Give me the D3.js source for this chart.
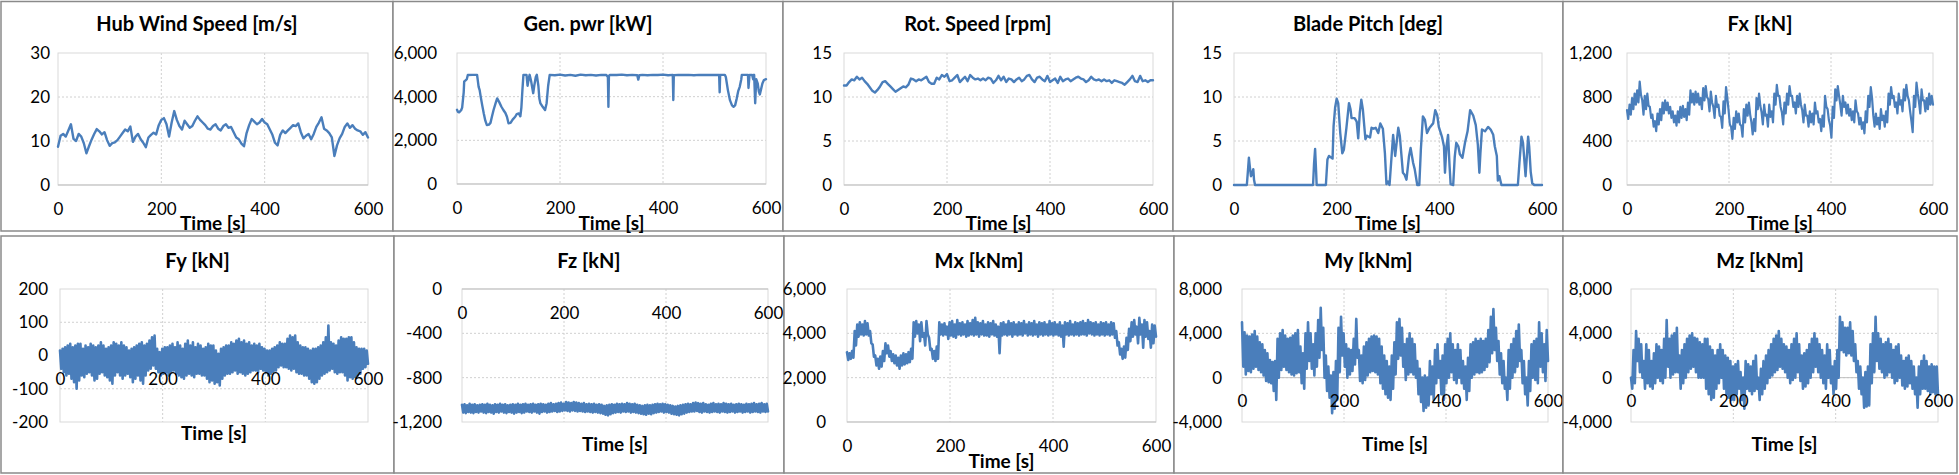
<!DOCTYPE html>
<html><head><meta charset="utf-8">
<script src="https://cdn.jsdelivr.net/npm/d3@7"></script>
<style>html,body{margin:0;padding:0;background:#fff;}svg{display:block;}</style>
</head><body>
<svg id="chart" width="1959" height="475"></svg>
<script>
// ---------------- DATA ----------------
const timeTicks = [0, 200, 400, 600];
const timeSpan = [0, 600];

const titles = ["Hub Wind Speed [m/s]", "Gen. pwr [kW]", "Rot. Speed [rpm]", "Blade Pitch [deg]", "Fx [kN]",
                "Fy [kN]", "Fz [kN]", "Mx [kNm]", "My [kNm]", "Mz [kNm]"];
const xAxisTitle = "Time [s]";

const yDomains = [[0,30],[0,6000],[0,15],[0,15],[0,1200],[-200,200],[-1200,0],[0,6000],[-4000,8000],[-4000,8000]];
const yTickValues = [[0,10,20,30],[0,2000,4000,6000],[0,5,10,15],[0,5,10,15],[0,400,800,1200],
                     [-200,-100,0,100,200],[-1200,-800,-400,0],[0,2000,4000,6000],[-4000,0,4000,8000],[-4000,0,4000,8000]];

// Hub wind speed [m/s], one sample every 5 s
const hubWindSpeed = [
 8.7,11.2,11.6,11.0,12.4,13.8,10.5,10.0,11.6,11.0,
 9.5,7.2,8.8,10.3,11.6,12.7,12.2,11.5,12.0,10.2,
 8.9,9.5,9.7,10.2,11.0,11.8,12.6,12.2,13.3,9.8,
 11.0,11.6,10.4,9.6,8.6,10.8,11.4,11.9,11.5,13.6,
 14.8,15.2,13.8,11.0,14.2,16.8,14.8,13.4,12.6,14.6,
 13.8,13.0,13.4,14.6,15.6,14.8,14.2,13.6,12.8,12.6,
 13.4,13.8,12.8,12.4,13.4,13.8,13.0,13.2,12.0,10.8,
 10.4,9.4,8.8,11.8,13.6,15.0,14.4,13.8,14.2,15.0,
 14.2,13.8,12.6,11.4,9.6,9.0,11.4,12.4,11.8,12.4,
 13.0,13.6,13.4,14.0,12.0,10.6,11.2,11.6,10.4,11.6,
 13.2,14.2,15.4,12.8,12.4,11.8,10.8,6.6,9.0,10.6,
 11.6,13.2,14.0,13.0,13.6,12.8,12.4,12.2,11.4,12.0,
 10.8];

// Generator power [kW], [time, value] breakpoints
const genPower = [
 [0,3400],[2,3300],[4,3280],[8,3380],[10,3500],[13,4200],[14,4700],[17,4750],[19,4800],[21,4990],[30,5000],[39,5000],
 [42,4450],[44,4300],[46,4000],[49,3600],[52,3230],[55,2900],[58,2700],[62,2720],[65,2800],[68,3100],[71,3390],[75,3700],
 [78,3920],[82,3750],[86,3550],[90,3390],[94,3250],[97,3080],[100,2780],[104,2800],[108,2950],[113,3080],[116,3200],[120,3230],
 [123,3100],[125,3500],[127,4300],[129,5000],[135,5000],[137,4500],[139,4800],[141,5000],[144,4700],[148,4160],[150,4500],
 [153,4900],[155,5000],[158,4500],[160,3900],[162,3690],[166,3550],[171,3390],[174,3700],[177,4500],[180,5000],
 [190,4980],[200,5010],[210,4970],[220,5000],[230,4960],[240,5010],[250,4980],[260,5000],[270,4970],[280,5000],[290,4990],
 [293,4900],[294,3540],[295,4950],[297,5000],[310,4990],[320,5010],[330,4980],[340,5000],[350,4980],[352,4780],[354,4980],
 [360,5000],[370,4980],[380,5000],[390,4990],[400,5010],[410,4980],[419,5000],[420,3850],[421,4980],[430,5000],[440,4990],
 [450,5000],[460,4980],[470,5000],[480,4990],[490,5000],[500,4990],[509,5000],[510,4200],[511,5000],[520,5000],[522,4900],
 [526,4300],[530,3840],[534,3600],[537,3540],[540,3600],[543,3900],[546,4250],[549,4450],[552,4800],[553,5000],[565,5000],
 [566,4400],[568,5000],[573,5000],[575,4800],[577,5000],[579,3700],[581,4800],[584,4600],[586,4240],[588,4100],[590,4300],
 [593,4600],[596,4760],[600,4800]];

// Rotor speed [rpm], one sample every 5 s
const rotSpeed = [
 11.3,11.3,11.7,12.0,11.9,12.3,12.0,12.2,11.8,11.5,
 11.1,10.7,10.5,10.8,11.2,11.7,11.8,11.5,11.2,10.9,
 10.6,10.8,11.0,11.2,11.1,11.4,12.1,12.0,11.8,12.0,
 11.9,12.1,12.3,11.7,11.5,11.5,12.2,12.0,12.5,12.3,
 12.6,11.8,11.9,12.2,12.5,11.7,12.0,12.3,11.8,12.5,
 12.2,12.0,12.1,11.9,12.1,11.9,12.2,12.1,11.6,11.9,
 12.4,11.9,12.3,11.7,12.1,12.0,11.7,12.0,12.2,11.8,
 12.0,12.4,12.5,12.0,11.7,12.2,12.3,12.0,11.8,12.4,
 11.7,11.9,12.1,11.6,12.3,11.8,12.0,12.1,11.8,12.0,
 12.2,12.3,12.1,12.0,11.7,11.9,12.3,12.0,11.9,12.0,
 11.8,12.0,11.8,11.9,11.6,11.9,11.8,11.7,11.6,11.4,
 11.7,12.0,12.4,11.8,11.7,12.4,11.8,11.9,11.7,11.9,
 11.9];

// Blade pitch [deg], [time, value] breakpoints
const bladePitch = [
 [0,0],[25,0],[27,1.5],[29,3.1],[31,2.0],[33,1.0],[35,1.2],[37.6,1.8],[39,0.6],[41,0],
 [154,0],[156,2.5],[158,4.1],[160,1.5],[161,0],
 [179,0],[182,2.9],[185,3.3],[190,3.1],[192,3.0],[194,6.7],[197,8.8],[200,9.8],[203,9.3],[207,5.9],[211,3.6],[214,4.0],
 [219,6.5],[224,9.3],[227,8.6],[229,7.6],[235,7.6],[239,7.2],[242,5.3],[245,8.2],[248,9.7],[251,8.6],[256,5.2],[259,5.6],
 [265,5.4],[268,6.5],[272,6.4],[276,6.5],[281,5.9],[285,7.0],[290,6.4],[294,3.6],[297,0.1],[300,0.4],[303,0],[307,3.3],
 [310,5.7],[314,3.3],[320,6.5],[323,5.6],[329,1.4],[332,1.2],[336,0.6],[341,3.3],[344,4.2],[349,2.5],[352,1.8],[357,0],
 [361,0],[364,4.0],[368,7.8],[372,7.4],[376,5.9],[381,6.5],[385,6.8],[388,7.0],[392,8.5],[396,7.9],[399,6.6],[405,5.5],
 [409,4.4],[411,1.4],[414,4.4],[417,5.7],[420,2.1],[422,0.1],[427,0],[430,3.2],[433,4.8],[437,4.4],[440,3.5],[445,3.1],
 [450,4.8],[455,6.1],[460,8.5],[466,7.9],[471,6.8],[475,4.6],[478,1.4],[480,3.6],[483,6.3],[489,6.1],[495,6.6],[500,6.3],
 [505,5.7],[508,4.4],[512,3.3],[514,0.5],[517,1.0],[521,0],
 [553,0],[556,2.5],[560,5.5],[563,4.8],[568,1.0],[573,5.5],[575,4.4],[578,1.5],[581,0.2],[585,0],[600,0]];

// Noisy load signals: consecutive samples (~2.5 s apart), alternating peaks and troughs
const fxLoad = [
 680,600, 730,640, 790,690, 830,730, 860,750, 940,820, 770,640, 810,690, 830,720, 710,610,
 640,530, 580,490, 650,550, 690,590, 750,650, 770,680, 750,650, 710,610, 670,570, 630,540,
 670,570, 710,610, 720,620, 690,590, 750,640, 860,750, 830,730, 850,750, 830,730, 790,690,
 880,770, 900,800, 780,670, 850,750, 710,610, 810,710, 730,630, 620,520, 760,650, 890,790,
 680,550, 530,420, 610,510, 670,570, 650,550, 540,440, 690,570, 730,630, 750,640, 570,460,
 600,490, 790,690, 830,720, 660,550, 730,630, 640,530, 730,620, 670,570, 830,730, 910,810,
 810,710, 660,550, 750,650, 830,730, 900,810, 810,710, 750,650, 810,710, 830,730, 680,570,
 730,630, 630,530, 670,570, 650,550, 750,650, 670,570, 600,490, 630,530, 810,710, 690,590,
 540,430, 710,610, 870,770, 900,810, 730,630, 810,710, 750,650, 730,630, 690,590, 670,570,
 770,670, 650,550, 610,510, 570,470, 670,570, 810,710, 890,790, 630,530, 650,550, 610,510,
 690,590, 630,530, 670,570, 830,730, 890,790, 810,710, 750,650, 830,730, 770,670, 870,770,
 910,810, 770,670, 580,480, 810,710, 930,830, 750,650, 870,770, 770,670, 790,690, 830,730,
 810,730];

const fyLoad = [
 15,-40, 20,-50, 25,-60, 30,-55, 35,-70, 25,-80, 30,-100, 35,-75, 35,-60, 20,-65,
 30,-55, 25,-50, 35,-60, 30,-75, 25,-70, 30,-55, 40,-50, 30,-60, 20,-65, 25,-75,
 30,-85, 40,-60, 35,-50, 30,-60, 40,-70, 30,-60, 25,-55, 15,-65, 20,-80, 25,-70,
 30,-60, 35,-75, 40,-85, 30,-60, 35,-45, 45,-40, 55,-30, 60,-40, 20,-50, 10,-60,
 20,-55, 25,-50, 25,-60, 30,-50, 35,-45, 25,-55, 40,-60, 30,-65, 20,-70, 35,-60,
 45,-55, 30,-60, 40,-65, 25,-55, 35,-55, 30,-60, 20,-60, 25,-70, 35,-80, 30,-75,
 30,-85, 15,-80, 5,-90, 20,-70, 25,-60, 30,-55, 30,-55, 40,-50, 35,-45, 45,-55,
 50,-50, 40,-55, 45,-60, 35,-55, 40,-50, 30,-45, 35,-45, 30,-50, 35,-40, 25,-45,
 20,-50, 15,-60, 15,-55, 20,-50, 25,-45, 30,-35, 40,-30, 35,-35, 35,-35, 50,-40,
 60,-45, 55,-40, 60,-50, 40,-55, 30,-55, 25,-60, 25,-60, 20,-70, 15,-80, 20,-85,
 20,-80, 25,-70, 30,-60, 40,-55, 55,-50, 90,-45, 40,-40, 35,-50, 30,-55, 45,-50,
 55,-50, 50,-60, 50,-75, 55,-65, 55,-70, 40,-65, 25,-60, 20,-55, 20,-40, 20,-35,
 15,-25];

const fzLoad = [
 -1045,-1115, -1040,-1120, -1050,-1110, -1035,-1115, -1045,-1120, -1040,-1110, -1050,-1115, -1045,-1105, -1040,-1115, -1045,-1120,
 -1035,-1110, -1045,-1115, -1050,-1125, -1040,-1110, -1045,-1115, -1035,-1105, -1045,-1115, -1040,-1120, -1050,-1110, -1045,-1115,
 -1040,-1125, -1045,-1115, -1035,-1110, -1045,-1120, -1040,-1115, -1035,-1105, -1045,-1110, -1040,-1115, -1035,-1105, -1045,-1115,
 -1040,-1125, -1035,-1110, -1040,-1105, -1045,-1115, -1035,-1110, -1030,-1105, -1040,-1100, -1035,-1110, -1030,-1105, -1025,-1100,
 -1035,-1095, -1020,-1100, -1025,-1105, -1030,-1095, -1020,-1100, -1025,-1105, -1030,-1100, -1035,-1105, -1030,-1110, -1040,-1105,
 -1035,-1110, -1040,-1115, -1035,-1110, -1045,-1115, -1040,-1120, -1045,-1125, -1055,-1135, -1050,-1140, -1045,-1130, -1040,-1120,
 -1045,-1115, -1035,-1110, -1040,-1115, -1035,-1105, -1040,-1110, -1030,-1105, -1035,-1115, -1040,-1110, -1035,-1115, -1045,-1120,
 -1050,-1125, -1055,-1130, -1050,-1135, -1045,-1125, -1050,-1130, -1045,-1120, -1040,-1115, -1035,-1110, -1040,-1105, -1035,-1115,
 -1040,-1110, -1045,-1115, -1050,-1125, -1055,-1130, -1060,-1135, -1055,-1140, -1050,-1130, -1045,-1125, -1040,-1115, -1035,-1110,
 -1040,-1105, -1030,-1105, -1025,-1100, -1030,-1110, -1035,-1115, -1030,-1105, -1040,-1110, -1045,-1115, -1035,-1110, -1030,-1105,
 -1040,-1110, -1035,-1115, -1040,-1105, -1030,-1110, -1035,-1115, -1040,-1110, -1035,-1105, -1045,-1115, -1040,-1110, -1035,-1105,
 -1040,-1115, -1045,-1110, -1035,-1105, -1040,-1115, -1035,-1110, -1030,-1105, -1040,-1110, -1035,-1115, -1030,-1105, -1040,-1110,
 -1035,-1105];

const mxLoad = [
 3150,2800, 3100,2850, 3200,2900, 4100,3450, 4400,3850, 4500,3950, 4400,3900, 4550,3950, 4450,3900, 4100,3550,
 3500,2950, 3000,2550, 2850,2400, 2950,2500, 3200,2750, 3550,3100, 3450,2950, 3200,2750, 3050,2650, 3000,2550,
 2900,2400, 3000,2550, 3100,2600, 3050,2650, 3150,2700, 3300,2850, 4500,3850, 4550,4000, 4400,3650, 4500,3850,
 4000,3450, 4550,3950, 3800,3250, 3300,2850, 3200,2750, 3400,2850, 4500,3950, 4400,3900, 4450,3950, 4300,3750,
 4500,3900, 4550,3850, 4400,3800, 4600,3950, 4450,3900, 4500,3950, 4400,3850, 4550,3900, 4450,3950, 4600,3900,
 4700,3950, 4500,3850, 4450,3950, 4550,3900, 4400,3900, 4500,3850, 4450,3950, 4550,3900, 4400,3850, 4300,3100,
 4450,3900, 4500,3950, 4400,3900, 4550,3950, 4450,3850, 4500,3950, 4400,3900, 4500,3950, 4450,3900, 4550,4000,
 4400,3900, 4500,3950, 4450,3900, 4550,3950, 4400,3850, 4500,3950, 4450,3900, 4500,3950, 4400,3900, 4550,3950,
 4450,3900, 4500,3950, 4400,3900, 4500,3850, 4350,3400, 4500,3950, 4450,3900, 4550,3950, 4400,3900, 4500,3950,
 4450,3900, 4500,3950, 4550,3950, 4450,3900, 4600,4000, 4500,3950, 4450,3900, 4500,3950, 4400,3900, 4500,3950,
 4450,3900, 4500,3950, 4400,3900, 4500,3950, 4450,3800, 4100,3450, 3600,3050, 3300,2850, 3400,2900, 3800,3250,
 4200,3650, 4500,3850, 4600,3950, 4300,3550, 4700,3950, 4400,3350, 4600,3850, 4500,3750, 4100,3350, 4400,3550,
 4350,3850];

const myLoad = [
 5000,1000, 4100,300, 3800,600, 3700,500, 3900,800, 4200,1000, 3700,700, 3200,500, 3000,200, 2500,-300,
 2200,-400, 1600,-500, 1400,-1200, 1500,-2000, 3500,0, 4000,700, 4300,1000, 3800,700, 3500,500, 3600,300,
 3800,200, 4000,400, 4300,500, 2800,-500, 2200,-1000, 4000,800, 5000,1500, 4000,800, 3000,200, 4000,1000,
 5200,1800, 6300,2500, 4500,0, 2000,-1200, 1000,-1800, 200,-3200, 500,-2800, 1500,-2000, 4500,500, 5500,2000,
 4000,1000, 3000,0, 2600,300, 2500,600, 3500,1200, 5300,1800, 2500,-300, 2000,-500, 2800,-200, 3200,200,
 3500,500, 3700,600, 3800,500, 3700,300, 3500,-500, 2800,-1000, 2000,-1500, 1500,-1800, 1000,-2000, 2000,-1000,
 3200,300, 5000,1700, 5300,2000, 4500,1000, 3000,-200, 3500,300, 4000,500, 3500,300, 3000,0, 1500,-1500,
 800,-2200, 0,-3000, 200,-2700, 0,-2500, 1500,-1500, 1000,-2000, 2500,-500, 3000,0, 1500,-1500, 2000,-2000,
 3000,-500, 3500,0, 4000,500, 3000,-200, 2500,-500, 3000,0, 2500,-500, 1500,-1000, 1000,-2000, 1800,-1200,
 3000,0, 3200,300, 3500,500, 3300,400, 3500,500, 3300,700, 3500,1000, 4300,1400, 5500,2200, 6200,2500,
 4500,1500, 3300,300, 2200,-500, 1500,-1000, 0,-2000, 2500,-1000, 3000,0, 3500,500, 4200,1000, 4800,1500,
 2500,-500, 1500,-1500, 0,-2500, 1500,-1200, 3000,0, 3300,-200, 3500,-500, 5000,1000, 4000,500, 3000,-300,
 4300,1500];

const mzLoad = [
 0,-1000, 2500,-500, 4200,1500, 3500,500, 3000,0, 1500,-1000, 3000,-500, 2500,-800, 1500,-1000, 2200,-500,
 3000,0, 2800,-300, 2500,-500, 3500,0, 5200,1000, 3500,0, 3800,300, 4000,500, 4500,500, 2000,-1000,
 2500,-500, 3000,0, 3500,500, 3800,800, 4000,1000, 3600,500, 3500,0, 3200,0, 3000,0, 3500,-1000,
 3500,-1500, 2800,-2000, 2500,-1800, 2000,-1000, 2500,-500, 3000,0, 2500,-1000, 2000,-1500, 1800,-1800, 1500,-2000,
 1000,-2000, 1200,-1500, 1500,-1000, 500,-2000, 0,-2800, 1500,-1000, 1200,-1200, 1000,-1500, 1500,-1200, 2000,-1000,
 0,-2000, 800,-1500, 1500,-1000, 2000,-500, 2500,0, 3000,200, 3500,500, 3800,700, 4200,1000, 3500,800,
 3000,500, 2800,0, 2500,-500, 3000,-200, 3500,0, 4000,500, 3000,-300, 2000,-1000, 2200,-800, 2500,-500,
 3000,0, 3500,500, 4000,1000, 3500,500, 3000,0, 2500,-500, 2000,-1000, 3000,0, 2500,-500, 1000,-1500,
 1500,-1000, 2500,0, 5500,2500, 5000,2300, 4500,2000, 4500,2200, 5000,2000, 4200,1500, 3000,500, 1500,-1000,
 1000,-1500, 0,-2700, 500,-2600, 1000,-2500, 3000,-500, 4000,500, 5500,1500, 4000,800, 3500,500, 3000,0,
 3200,200, 3500,500, 3000,0, 2500,-500, 2800,-300, 3000,0, 2000,-700, 1500,-1000, 1800,-800, 2000,-500,
 1500,-1000, 1000,-1500, 0,-2700, 1000,-1500, 1500,-1000, 2000,-1000, 1500,-1200, 1000,-1500, 1200,-1300, 1000,-1500,
 1000,-1500];

// ---------------- LAYOUT (positions / styles) ----------------
const layout = [
 {frame:[1,1.5,393,231],   plot:[58,368,53,185],    labelRight:50,   titleY:31,  xTitleY:230},
 {frame:[393,1.5,783,231], plot:[457,766,53,184],   labelRight:437,  titleY:31,  xTitleY:230},
 {frame:[783,1.5,1173,231],plot:[844,1153,53,185],  labelRight:832,  titleY:31,  xTitleY:230},
 {frame:[1173,1.5,1563,231],plot:[1234,1542,53,185],labelRight:1222, titleY:31,  xTitleY:230},
 {frame:[1563,1.5,1957,231],plot:[1627,1933,53,185],labelRight:1612, titleY:31,  xTitleY:230},
 {frame:[1,236,394,473],   plot:[60,368,289,422],   labelRight:48,   titleY:268, xTitleY:440},
 {frame:[394,236,784,473], plot:[462,768,289,422],  labelRight:442,  titleY:268, xTitleY:451},
 {frame:[784,236,1174,473],plot:[847,1156,289,422], labelRight:826,  titleY:268, xTitleY:468},
 {frame:[1174,236,1563,473],plot:[1242,1548,289,422],labelRight:1222,titleY:268, xTitleY:451},
 {frame:[1563,236,1957,473],plot:[1631,1938,289,422],labelRight:1612,titleY:268, xTitleY:451}
];

const BLUE = "#4a7ebb";
const FONT = "Lato, 'Open Sans', sans-serif";

const uniform = vals => vals.map((v, i) => [timeSpan[1] * i / (vals.length - 1), v]);
const seriesData = [
  {pts: uniform(hubWindSpeed), sw: 2.4},
  {pts: genPower, sw: 2.4},
  {pts: uniform(rotSpeed), sw: 2.4},
  {pts: bladePitch, sw: 2.4},
  {pts: uniform(fxLoad), sw: 2.2},
  {pts: uniform(fyLoad), sw: 2.6},
  {pts: uniform(fzLoad), sw: 2.6},
  {pts: uniform(mxLoad), sw: 2.6},
  {pts: uniform(myLoad), sw: 2.6},
  {pts: uniform(mzLoad), sw: 2.6}
];

const fmt = d3.formatLocale({decimal: ".", thousands: ",", grouping: [3], currency: ["", ""], minus: "-"}).format(",");
const svg = d3.select("#chart");

titles.forEach((title, i) => {
  const L = layout[i];
  const g = svg.append("g");
  const [fx0, fy0, fx1, fy1] = L.frame;
  g.append("rect").attr("x", fx0).attr("y", fy0).attr("width", fx1 - fx0).attr("height", fy1 - fy0)
    .attr("fill", "#fff").attr("stroke", "#8a8a8a").attr("stroke-width", 1.5);

  const [px0, px1, py0, py1] = L.plot;
  const x = d3.scaleLinear().domain(timeSpan).range([px0, px1]);
  const y = d3.scaleLinear().domain(yDomains[i]).range([py1, py0]);

  // gridlines
  const inner = yTickValues[i].filter(v => v !== yDomains[i][0] && v !== yDomains[i][1]);
  g.append("g").selectAll("line").data(inner).join("line")
    .attr("x1", px0).attr("x2", px1).attr("y1", d => y(d)).attr("y2", d => y(d))
    .attr("stroke", "#d0d0d0").attr("stroke-width", 1).attr("stroke-dasharray", "2,2");
  g.append("g").selectAll("line").data(timeTicks.slice(1, -1)).join("line")
    .attr("x1", d => x(d)).attr("x2", d => x(d)).attr("y1", py0).attr("y2", py1)
    .attr("stroke", "#d0d0d0").attr("stroke-width", 1).attr("stroke-dasharray", "2,2");
  g.append("rect").attr("x", px0).attr("y", py0).attr("width", px1 - px0).attr("height", py1 - py0)
    .attr("fill", "none").attr("stroke", "#d9d9d9").attr("stroke-width", 1);
  // zero axis line
  g.append("line").attr("x1", px0).attr("x2", px1).attr("y1", y(0)).attr("y2", y(0))
    .attr("stroke", "#bfbfbf").attr("stroke-width", 1);

  // data
  const line = d3.line().x(d => x(d[0])).y(d => y(d[1]));
  g.append("path").datum(seriesData[i].pts).attr("d", line)
    .attr("fill", "none").attr("stroke", BLUE).attr("stroke-width", seriesData[i].sw)
    .attr("stroke-linejoin", "round").attr("stroke-linecap", "round");

  // axes
  const ya = g.append("g").attr("transform", `translate(${px0},0)`)
    .call(d3.axisLeft(y).tickValues(yTickValues[i]).tickSize(0).tickPadding(px0 - L.labelRight).tickFormat(fmt));
  ya.select(".domain").remove();
  ya.selectAll("text").attr("font-size", 17).attr("font-family", FONT).attr("fill", "#000");

  const xa = g.append("g").attr("transform", `translate(0,${y(0)})`)
    .call(d3.axisBottom(x).tickValues(timeTicks).tickSize(0).tickPadding(17.5).tickFormat(d3.format("d")));
  xa.select(".domain").remove();
  xa.selectAll("text").attr("font-size", 17).attr("font-family", FONT).attr("fill", "#000");

  // titles
  g.append("text").attr("x", (fx0 + fx1) / 2).attr("y", L.titleY).attr("text-anchor", "middle")
    .attr("font-family", FONT).attr("font-weight", "bold").attr("font-size", 20).attr("fill", "#000").text(title);
  g.append("text").attr("x", (px0 + px1) / 2).attr("y", L.xTitleY).attr("text-anchor", "middle")
    .attr("font-family", FONT).attr("font-weight", "bold").attr("font-size", 19).attr("fill", "#000").text(xAxisTitle);
});
</script>
</body></html>
